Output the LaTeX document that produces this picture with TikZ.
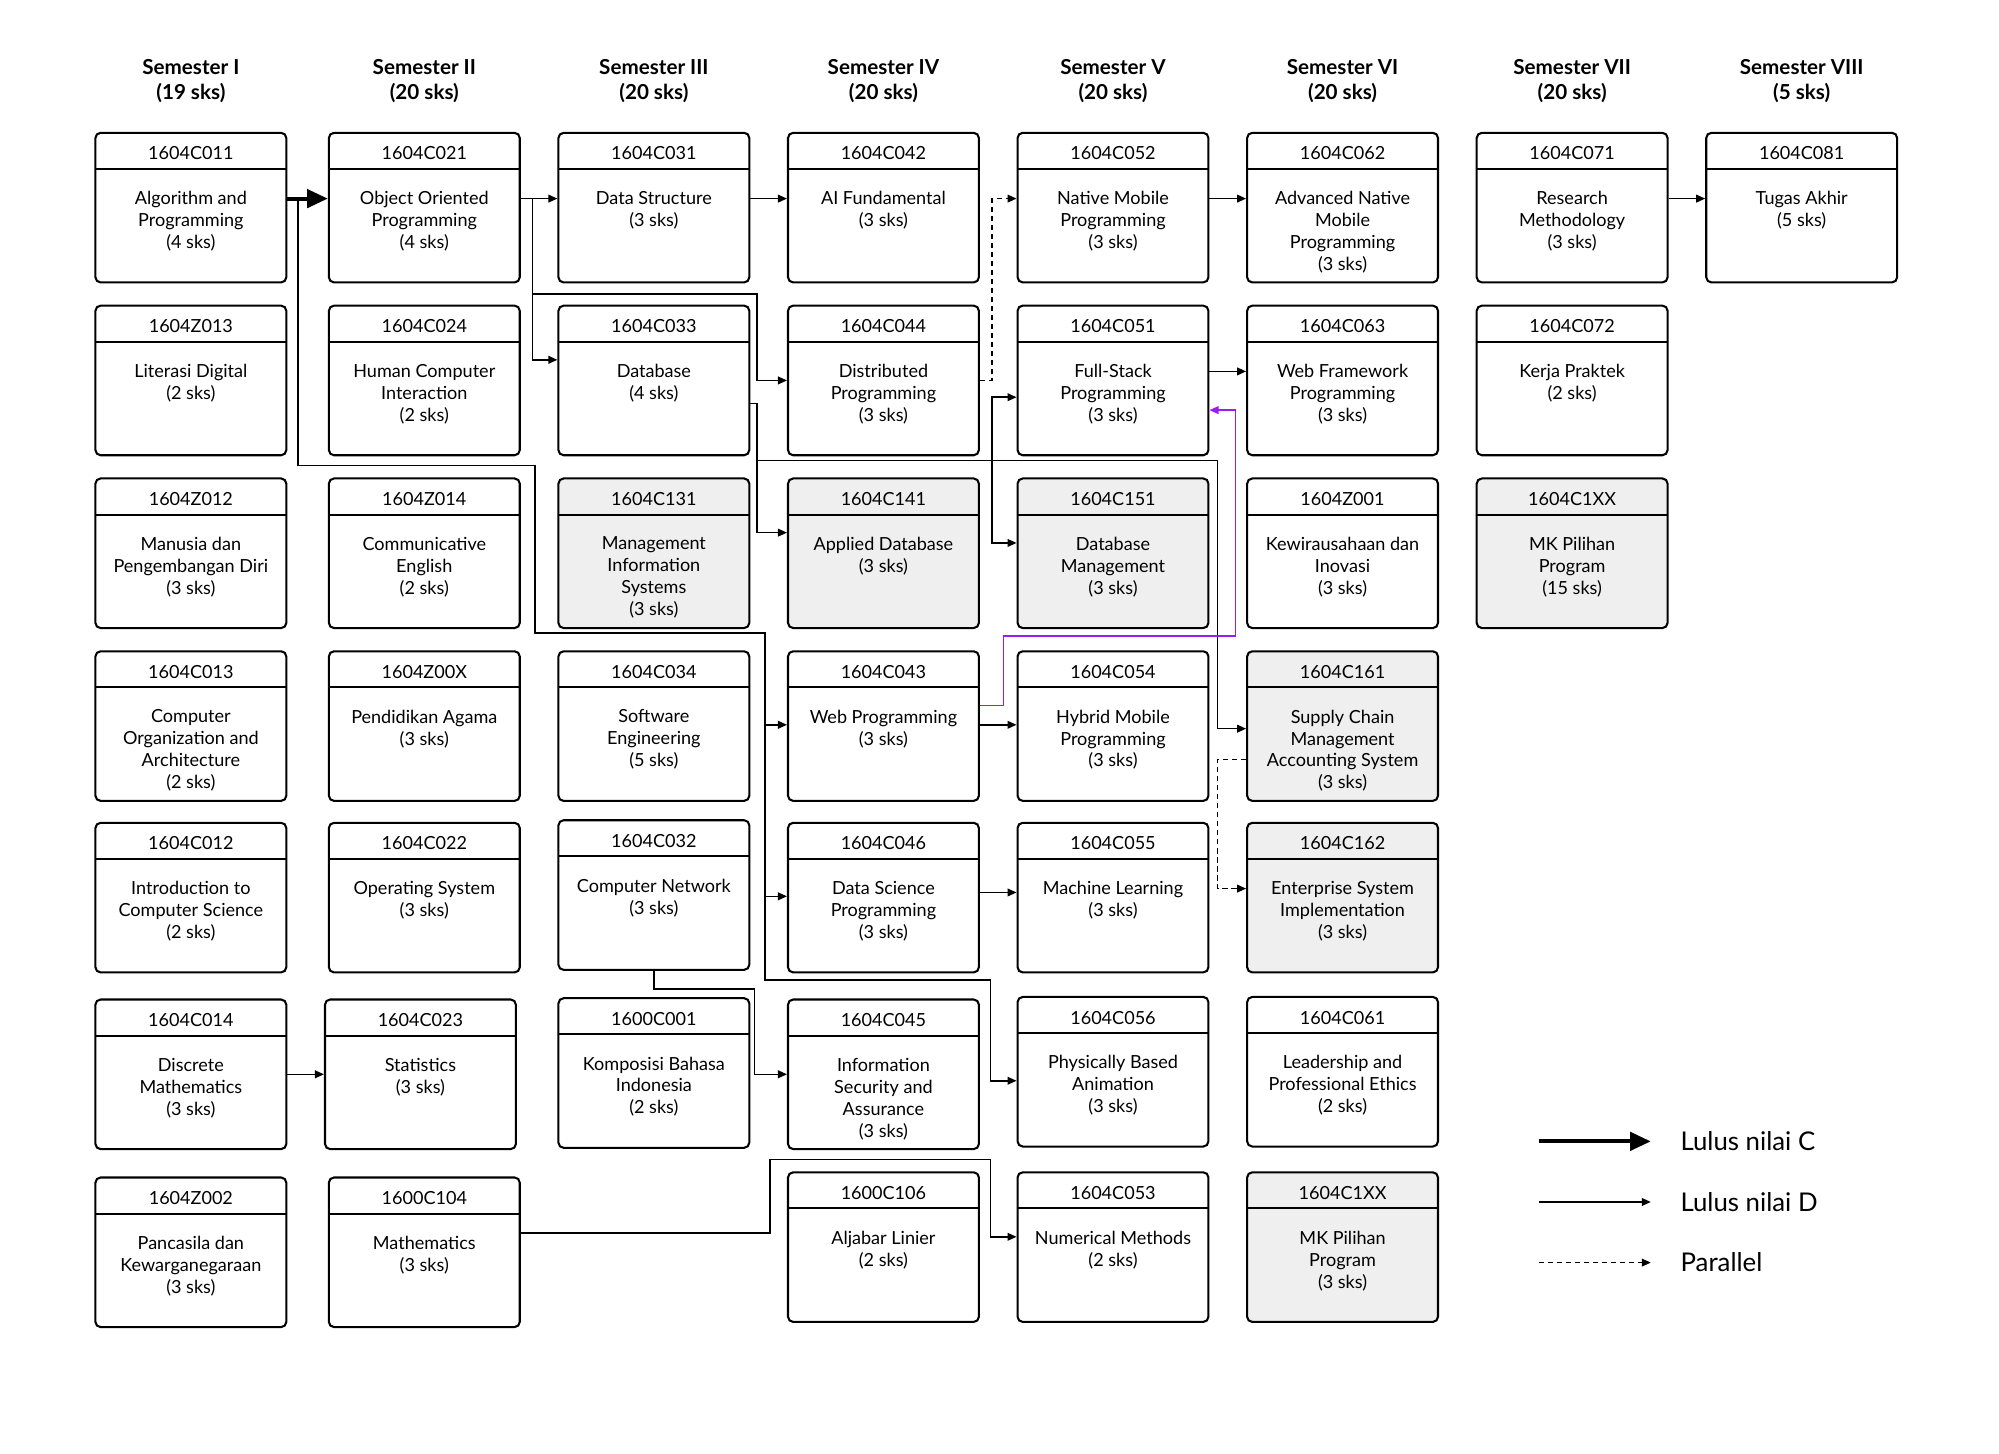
\documentclass[tikz,border=0pt]{standalone}
\usepackage{fontspec}
\setmainfont{Lato}
\usetikzlibrary{arrows.meta}
\definecolor{greyb}{HTML}{EFEFEF}
\definecolor{purp}{HTML}{9B1CF0}
\tikzset{
  box/.style={draw,rounded corners=2pt,line width=0.8pt,minimum width=74pt,minimum height=58pt,inner sep=0pt},
  txt/.style={font=\fontsize{7}{8.5}\selectfont,align=center,inner sep=0pt},
  conn/.style={line width=0.6pt,-{Triangle[length=3.5pt,width=3pt]}},
  thick conn/.style={line width=1.6pt,-{Triangle[length=8pt,width=7pt]}},
  dconn/.style={conn,dash pattern=on 2pt off 1.5pt},
  sem/.style={font=\fontsize{8}{9.5}\selectfont\bfseries,align=center},
}
\newcommand\cb[6]{%
  \node[box,fill=#4] (#1) at (#2+74,#3+58) {};
  \draw[line width=0.8pt] (#2,#3+28) -- (#2+148,#3+28);
  \node[txt] (#1-c) at (#2+74,#3+16) {#5};
  \node[txt,anchor=north] (#1-t) at (#2+74,#3+45) {#6};
}
\begin{document}
\begin{tikzpicture}[x=0.5pt,y=-0.5pt]
\useasboundingbox (0,0) rectangle (1550,1127);
\foreach \x/\n/\s in {74/I/19,255/II/20,433/III/20,611/IV/20,789/V/20,967/VI/20,1145/VII/20,1323/VIII/5}
  \node[sem] (s\n) at (\x+74,63) {Semester \n\\(\s\ sks)};
% column 1
\cb{a1}{74}{103}{white}{1604C011}{Algorithm and\\Programming\\(4 sks)}
\cb{a2}{74}{237}{white}{1604Z013}{Literasi Digital\\(2 sks)}
\cb{a3}{74}{371}{white}{1604Z012}{Manusia dan\\Pengembangan Diri\\(3 sks)}
\cb{a4}{74}{505}{white}{1604C013}{Computer\\Organization and\\Architecture\\(2 sks)}
\cb{a5}{74}{638}{white}{1604C012}{Introduction to\\Computer Science\\(2 sks)}
\cb{a6}{74}{775}{white}{1604C014}{Discrete\\Mathematics\\(3 sks)}
\cb{a7}{74}{913}{white}{1604Z002}{Pancasila dan\\Kewarganegaraan\\(3 sks)}
% column 2
\cb{b1}{255}{103}{white}{1604C021}{Object Oriented\\Programming\\(4 sks)}
\cb{b2}{255}{237}{white}{1604C024}{Human Computer\\Interaction\\(2 sks)}
\cb{b3}{255}{371}{white}{1604Z014}{Communicative\\English\\(2 sks)}
\cb{b4}{255}{505}{white}{1604Z00X}{Pendidikan Agama\\(3 sks)}
\cb{b5}{255}{638}{white}{1604C022}{Operating System\\(3 sks)}
\cb{b6}{252}{775}{white}{1604C023}{Statistics\\(3 sks)}
\cb{b7}{255}{913}{white}{1600C104}{Mathematics\\(3 sks)}
% column 3
\cb{c1}{433}{103}{white}{1604C031}{Data Structure\\(3 sks)}
\cb{c2}{433}{237}{white}{1604C033}{Database\\(4 sks)}
\cb{c3}{433}{371}{greyb}{1604C131}{Management\\Information\\Systems\\(3 sks)}
\cb{c4}{433}{505}{white}{1604C034}{Software\\Engineering\\(5 sks)}
\cb{c5}{433}{636}{white}{1604C032}{Computer Network\\(3 sks)}
\cb{c6}{433}{774}{white}{1600C001}{Komposisi Bahasa\\Indonesia\\(2 sks)}
% column 4
\cb{d1}{611}{103}{white}{1604C042}{AI Fundamental\\(3 sks)}
\cb{d2}{611}{237}{white}{1604C044}{Distributed\\Programming\\(3 sks)}
\cb{d3}{611}{371}{greyb}{1604C141}{Applied Database\\(3 sks)}
\cb{d4}{611}{505}{white}{1604C043}{Web Programming\\(3 sks)}
\cb{d5}{611}{638}{white}{1604C046}{Data Science\\Programming\\(3 sks)}
\cb{d6}{611}{775}{white}{1604C045}{Information\\Security and\\Assurance\\(3 sks)}
\cb{d7}{611}{909}{white}{1600C106}{Aljabar Linier\\(2 sks)}
% column 5
\cb{e1}{789}{103}{white}{1604C052}{Native Mobile\\Programming\\(3 sks)}
\cb{e2}{789}{237}{white}{1604C051}{Full-Stack\\Programming\\(3 sks)}
\cb{e3}{789}{371}{greyb}{1604C151}{Database\\Management\\(3 sks)}
\cb{e4}{789}{505}{white}{1604C054}{Hybrid Mobile\\Programming\\(3 sks)}
\cb{e5}{789}{638}{white}{1604C055}{Machine Learning\\(3 sks)}
\cb{e6}{789}{773}{white}{1604C056}{Physically Based\\Animation\\(3 sks)}
\cb{e7}{789}{909}{white}{1604C053}{Numerical Methods\\(2 sks)}
% column 6
\cb{f1}{967}{103}{white}{1604C062}{Advanced Native\\Mobile\\Programming\\(3 sks)}
\cb{f2}{967}{237}{white}{1604C063}{Web Framework\\Programming\\(3 sks)}
\cb{f3}{967}{371}{white}{1604Z001}{Kewirausahaan dan\\Inovasi\\(3 sks)}
\cb{f4}{967}{505}{greyb}{1604C161}{Supply Chain\\Management\\Accounting System\\(3 sks)}
\cb{f5}{967}{638}{greyb}{1604C162}{Enterprise System\\Implementation\\(3 sks)}
\cb{f6}{967}{773}{white}{1604C061}{Leadership and\\Professional Ethics\\(2 sks)}
\cb{f7}{967}{909}{greyb}{1604C1XX}{MK Pilihan\\Program\\(3 sks)}
% column 7, 8
\cb{g1}{1145}{103}{white}{1604C071}{Research\\Methodology\\(3 sks)}
\cb{g2}{1145}{237}{white}{1604C072}{Kerja Praktek\\(2 sks)}
\cb{g3}{1145}{371}{greyb}{1604C1XX}{MK Pilihan\\Program\\(15 sks)}
\cb{h1}{1323}{103}{white}{1604C081}{Tugas Akhir\\(5 sks)}
% connectors
\draw[thick conn] (a1.east |- 0,154) -- (b1.west |- 0,154);
\draw[conn] (231,154) -- (231,361) -- (415,361) -- (415,491) -- (593,491) -- (593,760) -- (768,760) -- (768,838) -- (e6.west |- 0,838);
\draw[conn] (593,562) -- (d4.west |- 0,562);
\draw[conn] (593,695) -- (d5.west |- 0,695);
\draw[conn] (b1.east |- 0,154) -- (c1.west |- 0,154);
\draw[conn] (413,154) -- (413,279) -- (c2.west |- 0,279);
\draw[conn] (413,228) -- (587,228) -- (587,295) -- (d2.west |- 0,295);
\draw[conn] (c1.east |- 0,154) -- (d1.west |- 0,154);
\draw[dconn] (d2.east |- 0,295) -- (769,295) -- (769,154) -- (e1.west |- 0,154);
\draw[conn] (e1.east |- 0,154) -- (f1.west |- 0,154);
\draw[conn] (g1.east |- 0,154) -- (h1.west |- 0,154);
\draw[conn] (c2.east |- 0,313) -- (587,313) -- (587,413) -- (d3.west |- 0,413);
\draw[conn] (587,357) -- (944,357) -- (944,565) -- (f4.west |- 0,565);
\draw[conn] (769,357) -- (769,308) -- (e2.west |- 0,308);
\draw[conn] (769,357) -- (769,421) -- (e3.west |- 0,421);
\draw[conn] (e2.east |- 0,288) -- (f2.west |- 0,288);
\draw[conn,purp] (d4.east |- 0,547) -- (778,547) -- (778,493) -- (958,493) -- (958,318) -- (e2.east |- 0,318);
\draw[conn] (d4.east |- 0,562) -- (e4.west |- 0,562);
\draw[conn] (d5.east |- 0,692) -- (e5.west |- 0,692);
\draw[dconn] (f4.west |- 0,589) -- (944,589) -- (944,689) -- (f5.west |- 0,689);
\draw[conn] (c5.south) -- (507,767) -- (585,767) -- (585,833) -- (d6.west |- 0,833);
\draw[conn] (a6.east |- 0,833) -- (b6.west |- 0,833);
\draw[conn] (b7.east |- 0,956) -- (597,956) -- (597,899) -- (768,899) -- (768,959) -- (e7.west |- 0,959);
% legend
\coordinate (l1a) at (1193,885); \coordinate (l1b) at (1280,885);
\coordinate (l2a) at (1193,932); \coordinate (l2b) at (1280,932);
\coordinate (l3a) at (1193,979); \coordinate (l3b) at (1280,979);
\draw[thick conn] (l1a) -- (l1b);
\draw[conn] (l2a) -- (l2b);
\draw[dconn] (l3a) -- (l3b);
\node[anchor=west,font=\fontsize{10}{12}\selectfont] (lc) at (1296,885) {Lulus nilai C};
\node[anchor=west,font=\fontsize{10}{12}\selectfont] (ld) at (1296,932) {Lulus nilai D};
\node[anchor=west,font=\fontsize{10}{12}\selectfont] (lp) at (1296,979) {Parallel};
\end{tikzpicture}
\end{document}
